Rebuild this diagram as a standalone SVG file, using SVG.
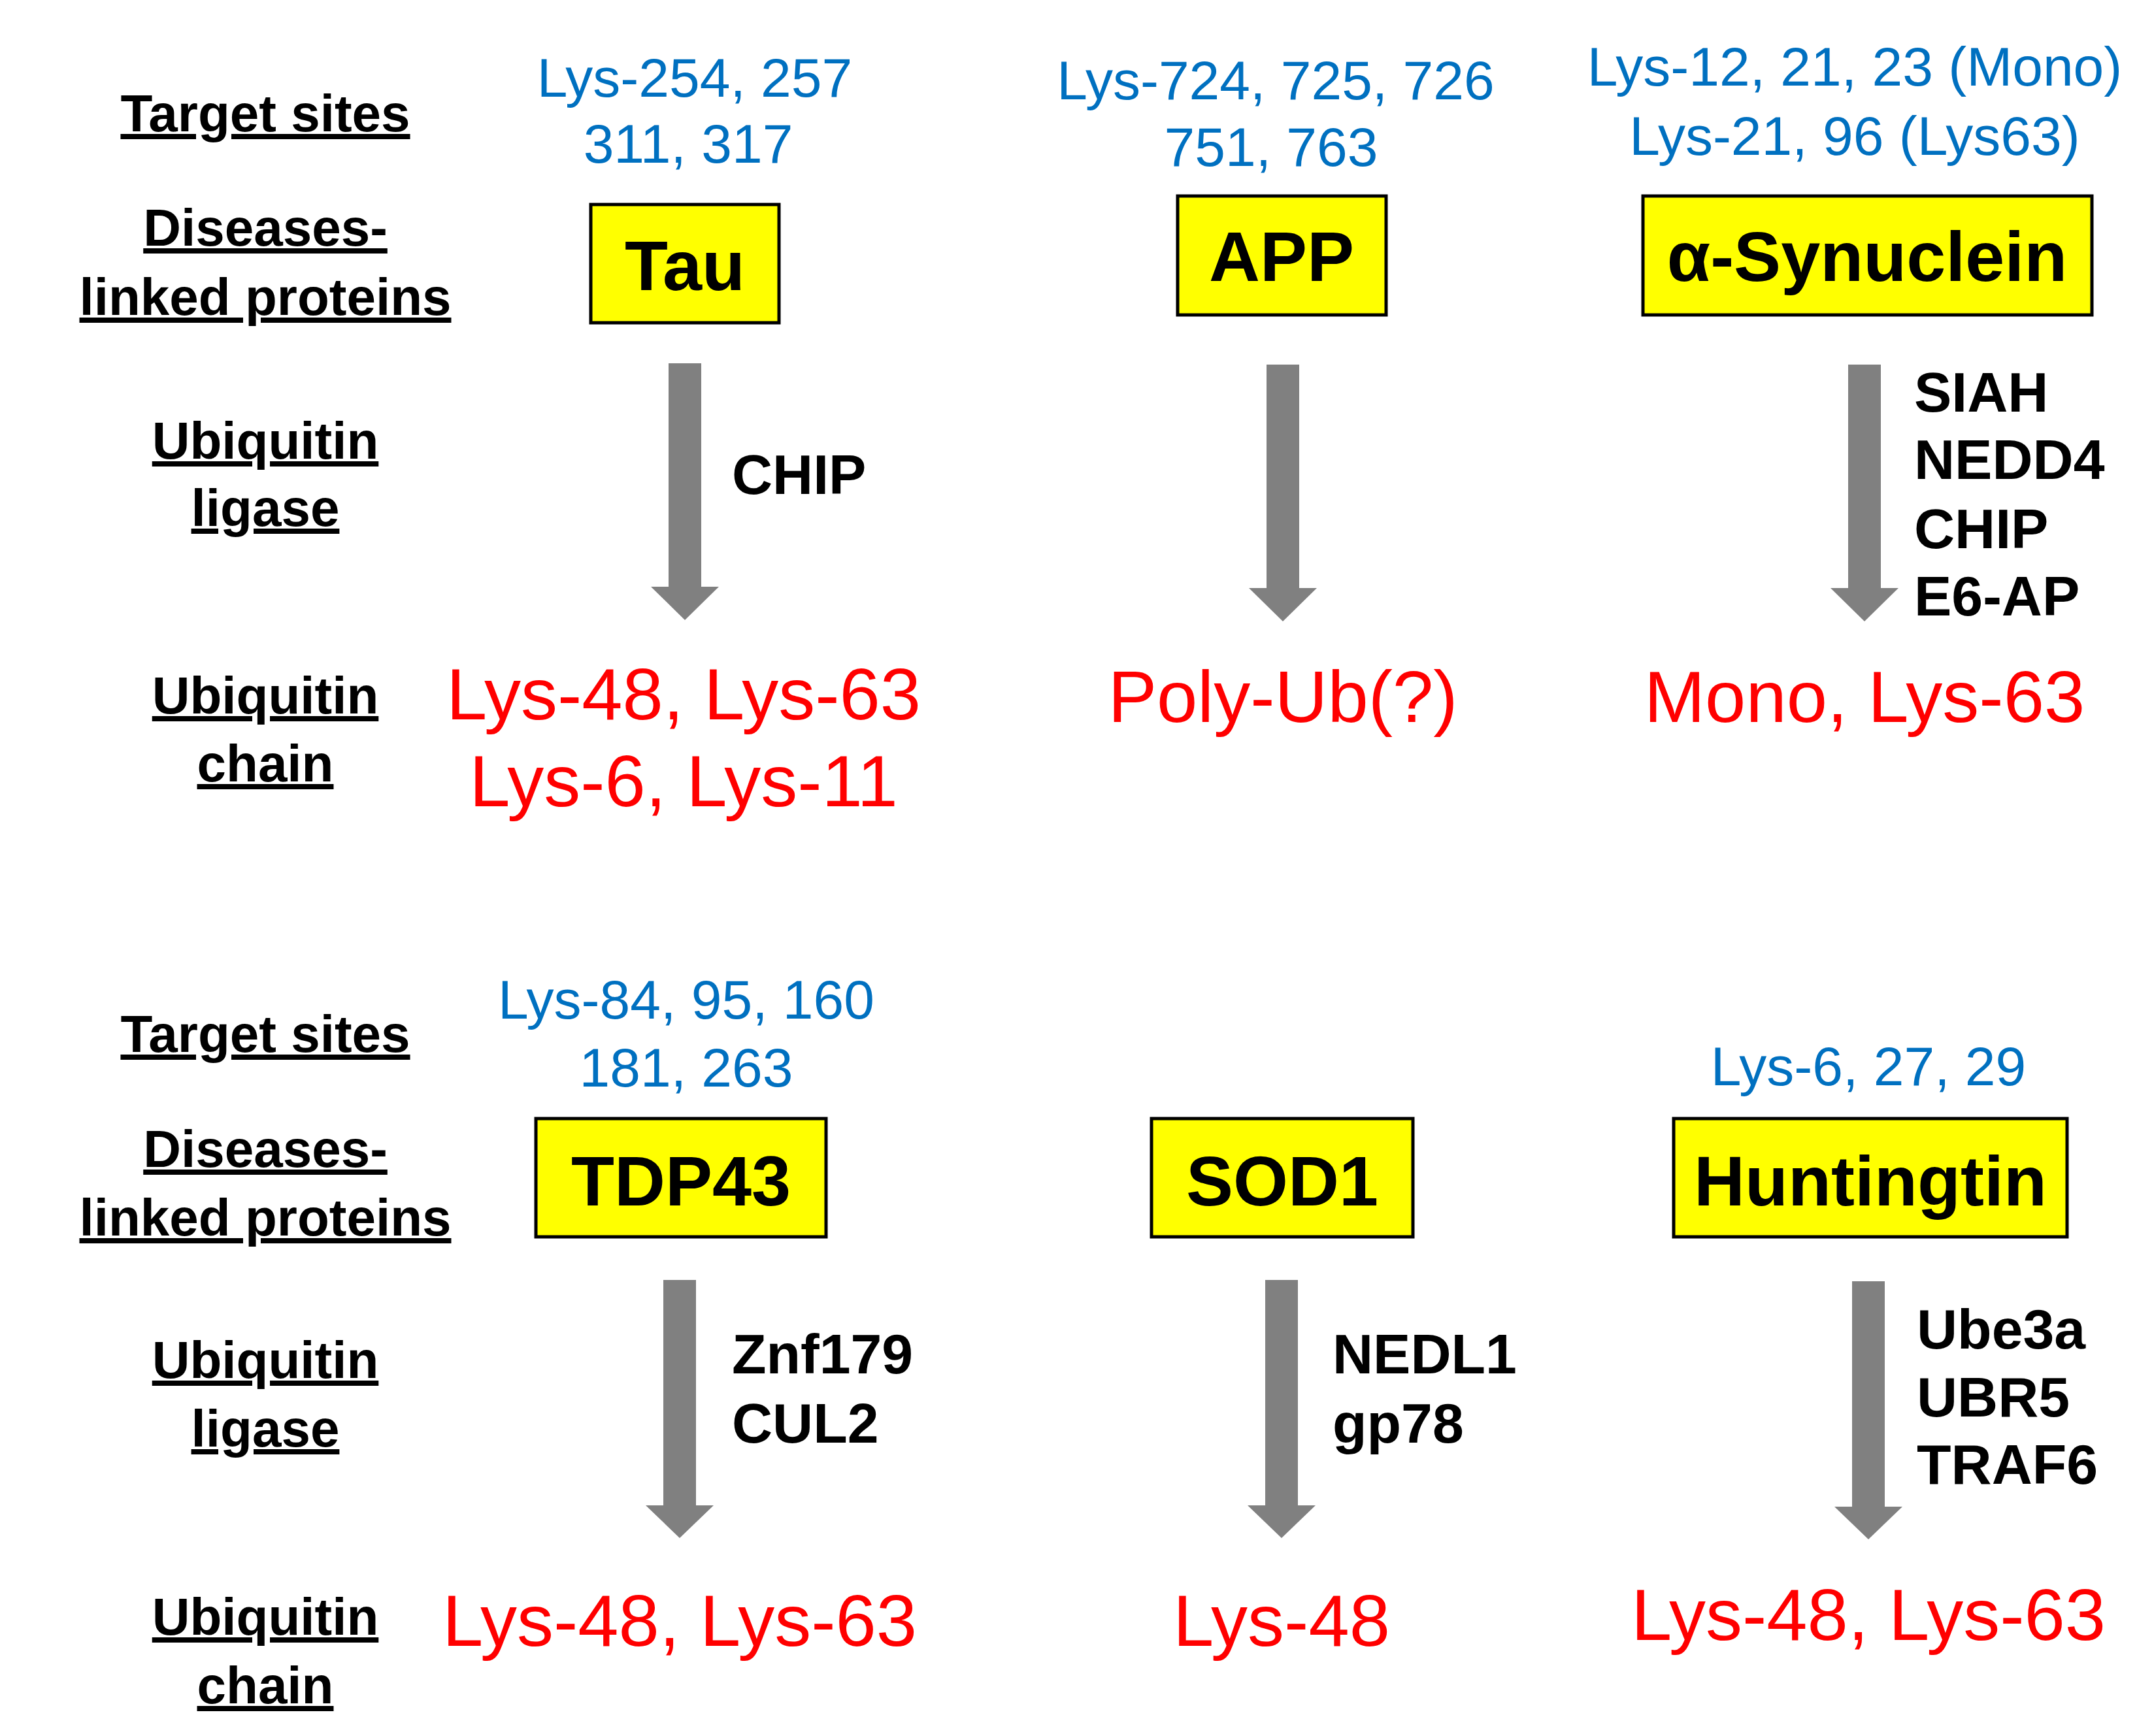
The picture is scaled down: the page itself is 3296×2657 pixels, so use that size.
<svg xmlns="http://www.w3.org/2000/svg" width="3296" height="2657" viewBox="0 0 3296 2657">
<style>
text{font-family:"Liberation Sans",Arial,sans-serif;text-anchor:middle}
.lab{font-size:80px;font-weight:bold;text-decoration:underline;fill:#000}
.site{font-size:84px;fill:#0070C0}
.box{fill:#FFFF00;stroke:#000;stroke-width:5}
.bl{font-size:108px;font-weight:bold;fill:#000}
.lig{font-size:86px;font-weight:bold;fill:#000;text-anchor:start}
.chain{font-size:112px;fill:#FF0000}
.arr{fill:#808080}
</style>
<defs>
<path id="arrowTop" d="M-25,0 H25 V342 H52 L0,393 L-52,342 H-25 Z"/>
<path id="arrowBot" d="M-25,0 H25 V345 H52 L0,395 L-52,345 H-25 Z"/>
</defs>
<g id="labels">
<text class="lab" x="406" y="201">Target sites</text>
<text class="lab" x="406" y="376">Diseases-</text>
<text class="lab" x="406" y="482">linked proteins</text>
<text class="lab" x="406" y="702">Ubiquitin</text>
<text class="lab" x="406" y="805">ligase</text>
<text class="lab" x="406" y="1092">Ubiquitin</text>
<text class="lab" x="406" y="1196">chain</text>
<text class="lab" x="406" y="1610">Target sites</text>
<text class="lab" x="406" y="1786">Diseases-</text>
<text class="lab" x="406" y="1891">linked proteins</text>
<text class="lab" x="406" y="2109">Ubiquitin</text>
<text class="lab" x="406" y="2214">ligase</text>
<text class="lab" x="406" y="2502">Ubiquitin</text>
<text class="lab" x="406" y="2607">chain</text>
</g>
<g id="connectors">
<use href="#arrowTop" class="arr" x="1048" y="556"/>
<use href="#arrowTop" class="arr" x="1963" y="558"/>
<use href="#arrowTop" class="arr" x="2853" y="558"/>
<use href="#arrowBot" class="arr" x="1040" y="1959"/>
<use href="#arrowBot" class="arr" x="1961" y="1959"/>
<use href="#arrowBot" class="arr" x="2859" y="1961"/>
</g>
<g id="tau">
<text class="site" x="1063" y="148">Lys-254, 257</text>
<text class="site" x="1053" y="249">311, 317</text>
<rect class="box" x="904" y="313" width="288" height="181"/>
<text class="bl" x="1048" y="444">Tau</text>
<text class="lig" x="1120" y="756">CHIP</text>
<text class="chain" x="1046" y="1101">Lys-48, Lys-63</text>
<text class="chain" x="1046" y="1234">Lys-6, Lys-11</text>
</g>
<g id="app">
<text class="site" x="1952" y="152">Lys-724, 725, 726</text>
<text class="site" x="1945" y="254">751, 763</text>
<rect class="box" x="1802" y="300" width="319" height="182"/>
<text class="bl" x="1961" y="430">APP</text>
<text class="chain" x="1963" y="1105">Poly-Ub(?)</text>
</g>
<g id="synuclein">
<text class="site" x="2838" y="131">Lys-12, 21, 23 (Mono)</text>
<text class="site" x="2838" y="237">Lys-21, 96 (Lys63)</text>
<rect class="box" x="2514" y="300" width="687" height="182"/>
<text class="bl" x="2857" y="430">α-Synuclein</text>
<text class="lig" x="2929" y="630">SIAH</text>
<text class="lig" x="2929" y="733">NEDD4</text>
<text class="lig" x="2929" y="839">CHIP</text>
<text class="lig" x="2929" y="942">E6-AP</text>
<text class="chain" x="2853" y="1105">Mono, Lys-63</text>
</g>
<g id="tdp43">
<text class="site" x="1050" y="1559">Lys-84, 95, 160</text>
<text class="site" x="1050" y="1663">181, 263</text>
<rect class="box" x="820" y="1712" width="444" height="181"/>
<text class="bl" x="1042" y="1845">TDP43</text>
<text class="lig" x="1120" y="2102">Znf179</text>
<text class="lig" x="1120" y="2208">CUL2</text>
<text class="chain" x="1040" y="2519">Lys-48, Lys-63</text>
</g>
<g id="sod1">
<rect class="box" x="1762" y="1712" width="400" height="181"/>
<text class="bl" x="1962" y="1845">SOD1</text>
<text class="lig" x="2039" y="2102">NEDL1</text>
<text class="lig" x="2039" y="2208">gp78</text>
<text class="chain" x="1961" y="2519">Lys-48</text>
</g>
<g id="huntingtin">
<text class="site" x="2859" y="1661">Lys-6, 27, 29</text>
<rect class="box" x="2561" y="1712" width="602" height="181"/>
<text class="bl" x="2862" y="1845">Huntingtin</text>
<text class="lig" x="2933" y="2064">Ube3a</text>
<text class="lig" x="2933" y="2168">UBR5</text>
<text class="lig" x="2933" y="2271">TRAF6</text>
<text class="chain" x="2859" y="2510">Lys-48, Lys-63</text>
</g>
</svg>
